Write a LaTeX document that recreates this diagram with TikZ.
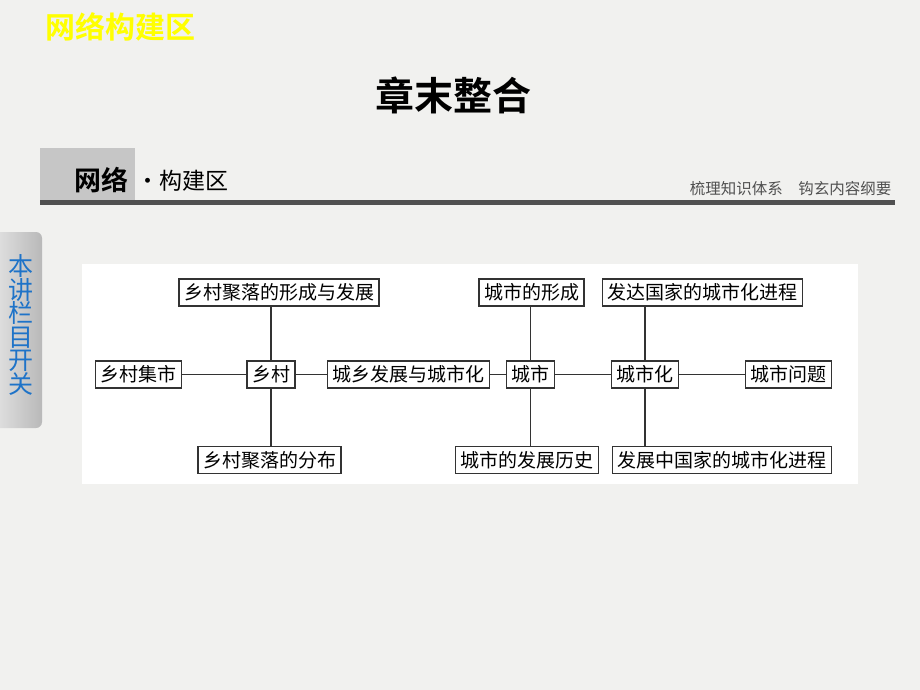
\documentclass[tikz,border=0pt]{standalone}
\usepackage{fontspec}
\newfontfamily\cjk{Noto Sans CJK SC}
\newfontfamily\cjkb{Noto Sans CJK SC Bold}
\usetikzlibrary{positioning}
\definecolor{paper}{HTML}{F1F1EF}
\definecolor{ttlyellow}{HTML}{FFFF00}
\definecolor{tabblue}{HTML}{1E73C8}
\definecolor{bardark}{HTML}{505050}
\definecolor{linegray}{HTML}{333333}
\tikzset{
  box/.style={draw=linegray, line width=1.4pt, fill=white, inner xsep=5pt, inner ysep=0pt,
    minimum height=27pt, font=\cjk\fontsize{19}{19}\selectfont, text=black},
  link/.style={draw=linegray, line width=1.4pt}
}
\begin{document}
\begin{tikzpicture}[x=1pt,y=-1pt]
\useasboundingbox (0,0) rectangle (920,690);
\fill[paper] (0,0) rectangle (920,690);
% top title
\node[font=\cjkb\fontsize{30}{30}\selectfont, text=ttlyellow] (toptitle) at (120,27) {网络构建区};
\node[font=\cjkb\fontsize{39}{39}\selectfont, text=black] (chtitle) at (453,95) {章末整合};
% header band
\fill[gray!45] (40,148) rectangle (135,200);
\fill[bardark] (40,200) rectangle (895,205);
\node[font=\cjkb\fontsize{27}{27}\selectfont, anchor=west] (wl) at (71,180) {网络};
\node[font=\cjk\fontsize{23}{23}\selectfont, anchor=west] (gjq) at (133,181) {·构建区};
\node[font=\cjk\fontsize{15.5}{15.5}\selectfont, text=bardark, anchor=east] (slogan) at (895,189) {梳理知识体系\quad 钩玄内容纲要};
% left tab
\shade[left color=gray!20, right color=gray!55, rounded corners=6pt] (-10,232) rectangle (42,428);
\node[font=\cjk\fontsize{25}{25}\selectfont, text=tabblue, text width=25pt, align=center, inner sep=0pt] (tab) at (21,325)
  {本\\[-1.5pt]讲\\[-1.5pt]栏\\[-1.5pt]目\\[-1.5pt]开\\[-1.5pt]关};
% diagram panel
\fill[white] (82,264) rectangle (858,484);
% nodes
\node[box] (xcform) at (279,292.5) {乡村聚落的形成与发展};
\node[box] (xcjs) at (138.5,374.5) {乡村集市};
\node[box] (xc) at (271,374.5) {乡村};
\node[box] (cxfz) at (408.5,374.5) {城乡发展与城市化};
\node[box] (xcfb) at (269.5,460) {乡村聚落的分布};
\node[box] (csxc) at (531.5,292.5) {城市的形成};
\node[box] (fdgj) at (702.5,292.5) {发达国家的城市化进程};
\node[box] (cs) at (530.5,374.5) {城市};
\node[box] (csh) at (645,374.5) {城市化};
\node[box] (cswt) at (788.5,374.5) {城市问题};
\node[box] (csls) at (527,460) {城市的发展历史};
\node[box] (fzzgj) at (722,460) {发展中国家的城市化进程};
% connectors
\draw[link] (xcjs) -- (xc);
\draw[link] (xc) -- (cxfz);
\draw[link] (cxfz) -- (cs);
\draw[link] (cs) -- (csh);
\draw[link] (csh) -- (cswt);
\draw[link] (xc.north) -- (xc.north |- xcform.south);
\draw[link] (xc.south) -- (xc.south |- xcfb.north);
\draw[link] (cs.north) -- (cs.north |- csxc.south);
\draw[link] (cs.south) -- (cs.south |- csls.north);
\draw[link] (csh.north) -- (csh.north |- fdgj.south);
\draw[link] (csh.south) -- (csh.south |- fzzgj.north);
\end{tikzpicture}
\end{document}
